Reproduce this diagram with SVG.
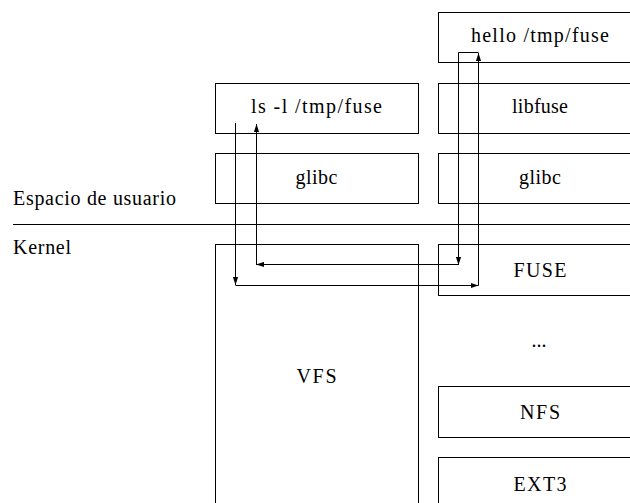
<svg xmlns="http://www.w3.org/2000/svg" width="630" height="503" viewBox="0 0 630 503">
  <style>
    .box { fill: none; stroke: #000; stroke-width: 1; }
    .lbl { font-family: "Liberation Serif", "Times New Roman", serif; font-size: 20px; fill: #000; text-anchor: middle; }
    .side { font-family: "Liberation Serif", "Times New Roman", serif; font-size: 20px; fill: #000; }
    .wire { fill: none; stroke: #000; stroke-width: 1; }
  </style>
  <defs>
    <marker id="arrow" viewBox="0 0 8 6" refX="8" refY="3" markerWidth="8" markerHeight="6" markerUnits="userSpaceOnUse" orient="auto">
      <path d="M0,0.4 L8,3 L0,5.6 Z" fill="#000"/>
    </marker>
  </defs>

  <rect width="630" height="503" fill="#fff"/>

  <!-- user space / kernel separator -->
  <g id="separator">
    <line x1="13" y1="224.5" x2="630" y2="224.5" stroke="#000" stroke-width="1"/>
    <text class="side" x="13" y="205" textLength="163" lengthAdjust="spacing">Espacio de usuario</text>
    <text class="side" x="13" y="254" textLength="58" lengthAdjust="spacing">Kernel</text>
  </g>

  <!-- left column -->
  <g id="ls">
    <rect class="box" x="215.5" y="83.5" width="203" height="50"/>
    <text class="lbl" x="316.5" y="113" textLength="131" lengthAdjust="spacing">ls -l /tmp/fuse</text>
  </g>
  <g id="glibc-left">
    <rect class="box" x="215.5" y="153.5" width="203" height="50"/>
    <text class="lbl" x="316.5" y="184" textLength="42" lengthAdjust="spacing">glibc</text>
  </g>
  <g id="vfs">
    <rect class="box" x="215.5" y="244.5" width="203" height="290"/>
    <text class="lbl" x="316.5" y="383" textLength="40" lengthAdjust="spacing">VFS</text>
  </g>

  <!-- right column -->
  <g id="hello">
    <rect class="box" x="438.5" y="12.5" width="203" height="50"/>
    <text class="lbl" x="540" y="42" textLength="138" lengthAdjust="spacing">hello /tmp/fuse</text>
  </g>
  <g id="libfuse">
    <rect class="box" x="438.5" y="83.5" width="203" height="50"/>
    <text class="lbl" x="540" y="113" textLength="56" lengthAdjust="spacing">libfuse</text>
  </g>
  <g id="glibc-right">
    <rect class="box" x="438.5" y="153.5" width="203" height="50"/>
    <text class="lbl" x="540" y="184" textLength="42" lengthAdjust="spacing">glibc</text>
  </g>
  <g id="fuse">
    <rect class="box" x="438.5" y="244.5" width="203" height="51"/>
    <text class="lbl" x="540" y="277" textLength="53" lengthAdjust="spacing">FUSE</text>
  </g>
  <g id="others">
    <text class="lbl" x="539" y="347">...</text>
  </g>
  <g id="nfs">
    <rect class="box" x="438.5" y="386.5" width="203" height="51"/>
    <text class="lbl" x="540" y="419" textLength="40" lengthAdjust="spacing">NFS</text>
  </g>
  <g id="ext3">
    <rect class="box" x="438.5" y="457.5" width="203" height="80"/>
    <text class="lbl" x="540" y="491" textLength="53" lengthAdjust="spacing">EXT3</text>
  </g>

  <!-- call path: ls -> VFS -> FUSE -> hello -> FUSE -> VFS -> ls -->
  <g id="connectors">
    <path class="wire" d="M235.5,123 V285" marker-end="url(#arrow)"/>
    <path class="wire" d="M235.5,285.5 H478.5" marker-end="url(#arrow)"/>
    <path class="wire" d="M478.5,285.5 V53" marker-end="url(#arrow)"/>
    <path class="wire" d="M478.5,52.5 H458.5 V265" marker-end="url(#arrow)"/>
    <path class="wire" d="M458.5,264.5 H256" marker-end="url(#arrow)"/>
    <path class="wire" d="M256.5,264.5 V124" marker-end="url(#arrow)"/>
  </g>
</svg>
